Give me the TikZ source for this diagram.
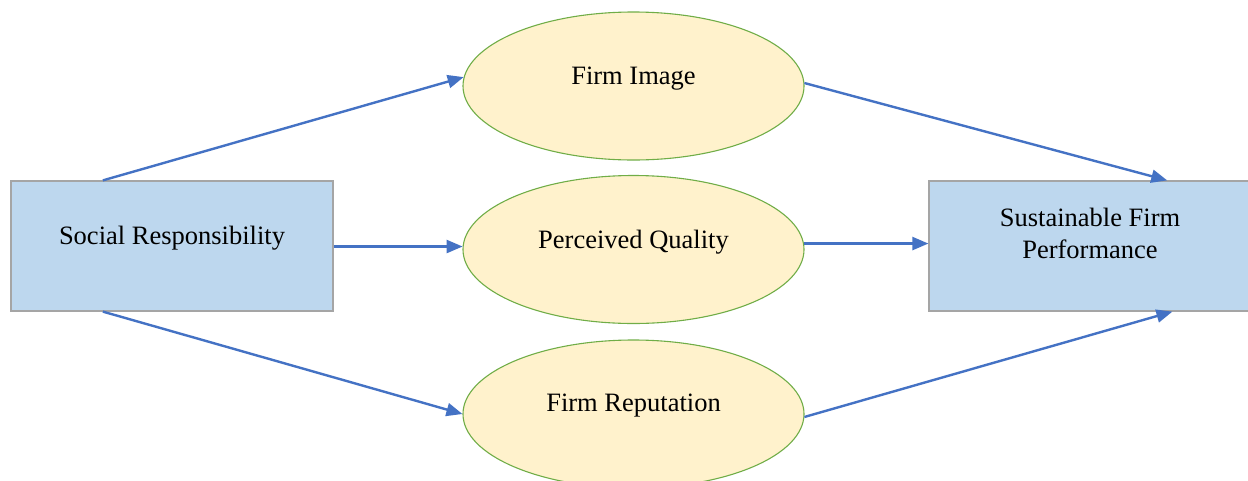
\documentclass[tikz,border=0pt]{standalone}
\usepackage{fontspec}
\setmainfont{Liberation Serif}
\usetikzlibrary{shapes.geometric,arrows.meta,calc}
\definecolor{boxfill}{HTML}{BDD7EE}
\definecolor{boxline}{HTML}{A5A5A5}
\definecolor{ovalfill}{HTML}{FFF2CC}
\definecolor{ovalline}{HTML}{70AD47}
\definecolor{link}{HTML}{4472C4}
\tikzset{
  rectbox/.style={draw=boxline, line width=1.2pt, fill=boxfill, minimum width=322pt, minimum height=130pt, inner sep=0pt},
  oval/.style={ellipse, draw=ovalline, line width=1.1pt, fill=ovalfill, minimum width=341pt, minimum height=148pt, inner sep=0pt},
  lbl/.style={font=\fontsize{26.5}{32}\selectfont, align=center, inner sep=0pt},
  path/.style={draw=link, line width=2.4pt, -{Triangle[length=16pt,width=13pt]}}
}
\begin{document}
\begin{tikzpicture}[x=1pt,y=-1pt]
\useasboundingbox (0,0) rectangle (1248,480);
% boxes at the two ends
\node[rectbox, label={[lbl,yshift=8pt]center:Social Responsibility}] (sr) at (172,246) {};
\node[rectbox, label={[lbl,yshift=13pt]center:Sustainable Firm\\Performance}] (sfp) at (1090,246) {};
% mediating constructs
\node[oval, label={[lbl,yshift=7pt]center:Firm Image}] (fi) at (633.5,86) {};
\node[oval, label={[lbl,yshift=7pt]center:Perceived Quality}] (pq) at (633.5,249.5) {};
\node[oval, label={[lbl,yshift=8pt]center:Firm Reputation}] (fr) at (633.5,414) {};
% paths
\draw[path] ($(sr.north west)!0.286!(sr.north east)$) -- (fi.177);
\draw[path] (sr.east |- pq.179.5) -- (pq.179.5);
\draw[path] ($(sr.south west)!0.286!(sr.south east)$) -- (fr.west);
\draw[path] (fi.1) -- ($(sfp.north west)!0.739!(sfp.north east)$);
\draw[path] (pq.2) -- (pq.2 -| sfp.west);
\draw[path] (fr.-1.5) -- ($(sfp.south west)!0.755!(sfp.south east)$);
\end{tikzpicture}
\end{document}
